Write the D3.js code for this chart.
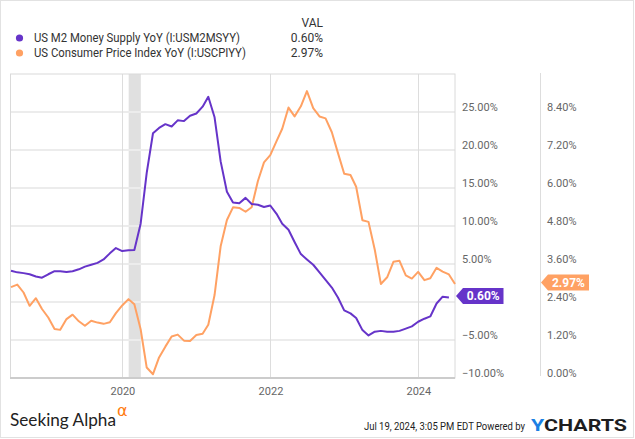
<!DOCTYPE html>
<html>
<head>
<meta charset="utf-8">
<title>US M2 vs CPI YoY</title>
<script src="https://d3js.org/d3.v7.min.js"></script>
<style>
  body {margin: 0; background: #fff;}
  text {font-family: Roboto, "Noto Sans", sans-serif;}
</style>
</head>
<body>
<svg id="chart" width="635" height="439"></svg>
<script>
// monthly points, month-end dates, first month June 2018
var firstMonth = "2018-06";
var seriesNames = ["US M2 Money Supply YoY (I:USM2MSYY)", "US Consumer Price Index YoY (I:USCPIYY)"];
var lastValues = ["0.60%", "2.97%"];

// M2 YoY %, Jun 2018 .. May 2024
var m2 = [4.1, 3.9, 3.8, 3.65, 3.35, 3.2, 3.65, 4.05, 4.05, 3.95, 4.05, 4.3,
          4.65, 4.9, 5.15, 5.6, 6.4, 7.1, 6.7, 6.8, 6.85, 10.3, 17.0, 22.2,
          22.9, 23.4, 23.1, 23.9, 23.8, 24.5, 24.8, 25.7, 27.0, 24.3, 18.5, 14.5,
          13.1, 13.0, 13.7, 12.9, 12.8, 12.5, 12.7, 11.6, 10.3, 9.5, 7.9, 6.3,
          5.6, 4.9, 3.9, 2.9, 1.9, 0.6, -1.1, -1.5, -2.1, -3.7, -4.4, -3.9,
          -3.8, -3.9, -3.9, -3.8, -3.5, -3.2, -2.6, -2.2, -1.9, -0.2, 0.7, 0.6];

// CPI YoY %, Jun 2018 .. Jun 2024
var cpi = [2.87, 2.95, 2.70, 2.28, 2.52, 2.18, 1.91, 1.55, 1.52, 1.86, 2.00, 1.79,
           1.65, 1.81, 1.75, 1.71, 1.76, 2.05, 2.29, 2.49, 2.33, 1.54, 0.33, 0.12,
           0.65, 0.99, 1.31, 1.37, 1.18, 1.17, 1.36, 1.40, 1.68, 2.62, 4.16, 4.99,
           5.39, 5.37, 5.25, 5.39, 6.22, 6.81, 7.04, 7.48, 7.87, 8.54, 8.26, 8.58,
           9.06, 8.52, 8.26, 8.20, 7.76, 7.11, 6.45, 6.41, 6.04, 4.98, 4.93, 4.05,
           2.97, 3.18, 3.67, 3.70, 3.24, 3.14, 3.35, 3.09, 3.15, 3.48, 3.36, 3.27, 2.97];

var m2Ticks = [-10, -5, 0, 5, 10, 15, 20, 25];
var cpiTicks = [0, 1.2, 2.4, 3.6, 4.8, 6.0, 7.2, 8.4];
var yearTicks = ["2020", "2022", "2024"];
var recession = ["2020-02-01", "2020-04-01"];

var purple = "#6634c9", orange = "#ffa163";

var svg = d3.select("#chart");
var plotL = 11, plotR = 455, plotT = 74, plotB = 378;

var parse = d3.timeParse("%Y-%m");
var monthEnd = function(d){ return new Date(d.getFullYear(), d.getMonth() + 1, 0); };
var start = parse(firstMonth);
var dates = d3.range(cpi.length).map(function(i){ return monthEnd(d3.timeMonth.offset(start, i)); });

var x = d3.scaleTime().domain([dates[0], dates[dates.length - 1]]).range([plotL, plotR]);
var yM2 = d3.scaleLinear().domain([-10, 30]).range([plotB, plotT]);
var yCpi = d3.scaleLinear().domain([0, 9.6]).range([plotB, plotT]);

// outer frame
svg.append("rect").attr("x", 0.5).attr("y", 0.5).attr("width", 633).attr("height", 437)
  .attr("fill", "none").attr("stroke", "#e2e2e2");

// recession band
var dp = d3.timeParse("%Y-%m-%d");
svg.append("rect")
  .attr("x", x(dp(recession[0]))).attr("y", plotT)
  .attr("width", x(dp(recession[1])) - x(dp(recession[0]))).attr("height", plotB - plotT)
  .attr("fill", "#e0e0e0");

// horizontal grid
svg.append("g").selectAll("line").data(m2Ticks.filter(function(d){ return d > -10; })).enter().append("line")
  .attr("x1", plotL).attr("x2", plotR)
  .attr("y1", function(d){ return yM2(d); }).attr("y2", function(d){ return yM2(d); })
  .attr("stroke", "#ececec").attr("stroke-width", 2);

// vertical year grid
var yearDates = yearTicks.map(function(y){ return new Date(+y, 0, 1); });
svg.append("g").selectAll("line").data(yearDates).enter().append("line")
  .attr("x1", function(d){ return Math.round(x(d)) + 0.5; }).attr("x2", function(d){ return Math.round(x(d)) + 0.5; })
  .attr("y1", plotT).attr("y2", plotB)
  .attr("stroke", "#dddddd");

// plot frame
svg.append("rect").attr("x", plotL - 0.5).attr("y", plotT).attr("width", plotR - plotL + 0.5).attr("height", plotB - plotT)
  .attr("fill", "none").attr("stroke", "#dadada");
svg.append("line").attr("x1", plotL - 1).attr("x2", plotR).attr("y1", plotB).attr("y2", plotB)
  .attr("stroke", "#cccccc").attr("stroke-width", 2);

// separator between the two value axes
svg.append("line").attr("x1", 540.5).attr("x2", 540.5).attr("y1", 73).attr("y2", 376)
  .attr("stroke", "#dddddd");

// x axis labels
var xAxis = d3.axisBottom(x).tickValues(yearDates).tickSize(0).tickFormat(d3.timeFormat("%Y"));
var gx = svg.append("g").attr("transform", "translate(0," + plotB + ")").call(xAxis);
gx.select(".domain").remove();
gx.selectAll("text").attr("dy", 0).attr("y", 17).attr("fill", "#666").style("font-size", "11px");

// left value axis (M2)
var axM2 = d3.axisRight(yM2).tickValues(m2Ticks).tickSize(0).tickFormat(function(d){ return d3.format(".2f")(d) + "%"; });
var gl = svg.append("g").attr("transform", "translate(462,0)").call(axM2);
gl.select(".domain").remove();
gl.selectAll("text").attr("x", 0).attr("dy", "-1.5px").attr("fill", "#666").style("font-size", "11px")
  .attr("text-anchor", "start");

// right value axis (CPI)
var axCpi = d3.axisRight(yCpi).tickValues(cpiTicks).tickSize(0).tickFormat(function(d){ return d3.format(".2f")(d) + "%"; });
var gr = svg.append("g").attr("transform", "translate(547,0)").call(axCpi);
gr.select(".domain").remove();
gr.selectAll("text").attr("x", 0).attr("dy", "-1.5px").attr("fill", "#666").style("font-size", "11px")
  .attr("text-anchor", "start");

// series lines
var lineM2 = d3.line().x(function(d, i){ return x(dates[i]); }).y(function(d){ return yM2(d); });
var lineCpi = d3.line().x(function(d, i){ return x(dates[i]); }).y(function(d){ return yCpi(d); });

svg.append("path").datum(cpi).attr("d", lineCpi)
  .attr("fill", "none").attr("stroke", orange).attr("stroke-width", 2).attr("stroke-linejoin", "round");
svg.append("path").datum(m2).attr("d", lineM2)
  .attr("fill", "none").attr("stroke", purple).attr("stroke-width", 2).attr("stroke-linejoin", "round");

// end value tags
function tag(x0, cy, w, color, label){
  var h = 8, p = 7;
  svg.append("path")
    .attr("d", "M" + x0 + "," + cy + "L" + (x0 + p) + "," + (cy - h) + "L" + (x0 + w) + "," + (cy - h) +
               "L" + (x0 + w) + "," + (cy + h) + "L" + (x0 + p) + "," + (cy + h) + "Z")
    .attr("fill", color);
  svg.append("text").attr("x", x0 + p + (w - p) / 2).attr("y", cy + 4.5)
    .attr("text-anchor", "middle").attr("fill", "#fff")
    .style("font-size", "12px").style("font-weight", "bold").text(label);
}
tag(456, yM2(m2[m2.length - 1]) - 1.5, 47.5, purple, lastValues[0]);
tag(541, yCpi(cpi[cpi.length - 1]) - 1.5, 48, orange, lastValues[1]);

// legend
svg.append("text").attr("x", 323).attr("y", 27).attr("text-anchor", "end")
  .attr("fill", "#333").style("font-size", "12px").text("VAL");
var legColors = [purple, orange];
var legWidths = [206, 212];
seriesNames.forEach(function(name, i){
  var ly = 42 + i * 15;
  svg.append("circle").attr("cx", 19.5).attr("cy", ly - 4).attr("r", 3.6).attr("fill", legColors[i]);
  svg.append("text").attr("x", 34).attr("y", ly).attr("fill", "#333").style("font-size", "12px")
    .attr("textLength", legWidths[i]).attr("lengthAdjust", "spacingAndGlyphs").text(name);
  svg.append("text").attr("x", 323).attr("y", ly).attr("text-anchor", "end")
    .attr("fill", "#333").style("font-size", "12px").text(lastValues[i]);
});

// footer
svg.append("text").attr("x", 10).attr("y", 425.5)
  .attr("textLength", 106).attr("lengthAdjust", "spacingAndGlyphs")
  .style("font-family", "Lato, 'Open Sans', sans-serif").style("font-size", "18px").attr("fill", "#222")
  .text("Seeking Alpha");
svg.append("text").attr("x", 117).attr("y", 416)
  .style("font-family", "'DejaVu Sans', sans-serif").style("font-size", "16px").attr("fill", "#ff7b10")
  .text("α");
svg.append("text").attr("x", 364).attr("y", 430)
  .attr("textLength", 161).attr("lengthAdjust", "spacingAndGlyphs")
  .style("font-size", "11px").attr("fill", "#222")
  .text("Jul 19, 2024, 3:05 PM EDT Powered by");
var yc = svg.append("text").attr("x", 531).attr("y", 431)
  .attr("textLength", 96).attr("lengthAdjust", "spacingAndGlyphs")
  .style("font-size", "17px").style("font-weight", "bold");
yc.append("tspan").attr("fill", "#1b7fe3").text("Y");
yc.append("tspan").attr("fill", "#1d1d1f").text("CHARTS");
</script>
</body>
</html>
